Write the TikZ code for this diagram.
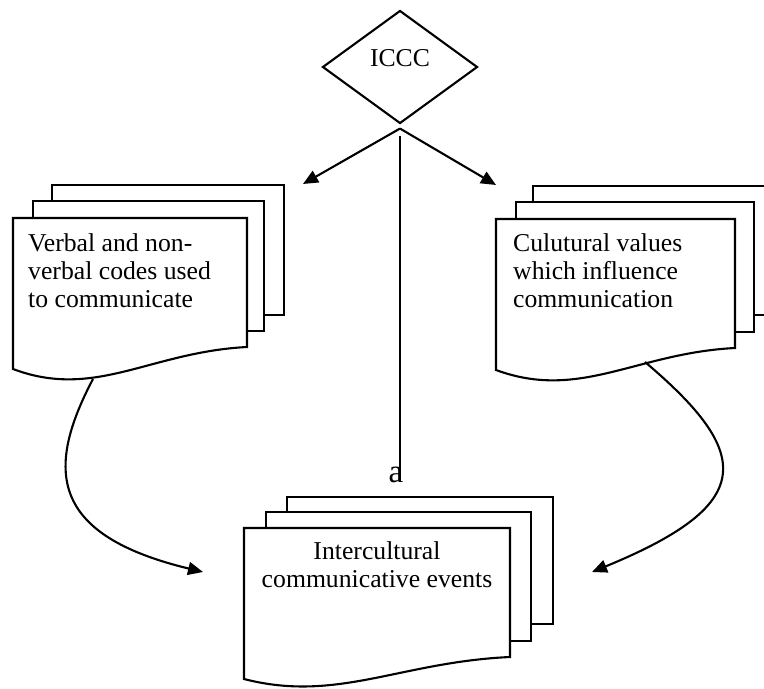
\documentclass[tikz,border=0pt]{standalone}
\usepackage{fontspec}
\setmainfont{Liberation Serif}
\usetikzlibrary{arrows.meta,shapes.geometric}
\tikzset{
  sheet/.style={draw, fill=white, line width=2.1bp, line join=miter},
  conn/.style={line width=2.1bp},
  arr/.style={line width=2.1bp, -{Triangle[length=15bp,width=13bp]}},
  lbl/.style={inner sep=0pt, font=\fontsize{25.7bp}{28bp}\selectfont},
}
\begin{document}
\begin{tikzpicture}[x=1bp,y=-1bp]
\useasboundingbox (0,0) rectangle (764,689);
\fill[white] (0,0) rectangle (764,689);
\clip (0,0) rectangle (764,689);

% diamond
\node[diamond, draw, line width=2.1bp, minimum width=155bp, minimum height=113bp, inner sep=0pt] (iccc) at (400,67) {};
\node[lbl, anchor=base] (iccctext) at (400,67) {ICCC};

% left stack
\draw[sheet] (52,185) rectangle (284,315);
\draw[sheet] (33,201) rectangle (264,331);
\draw[sheet] (13,369) -- (13,218) -- (247,218) -- (247,347) .. controls (150,352) and (95,400) .. (13,369) -- cycle;
\node[lbl, anchor=north west, align=left] (verbal) at (28,233.5) {Verbal and non-\\verbal codes used\\to communicate};

% right stack
\draw[sheet] (533,186) rectangle (800,315);
\draw[sheet] (516,202) rectangle (754,332);
\draw[sheet] (496,370) -- (496,219) -- (735,219) -- (735,348) .. controls (636,353) and (580,401) .. (496,370) -- cycle;
\node[lbl, anchor=north west, align=left] (values) at (513,233.5) {Culutural values\\which influence\\communication};

% bottom stack
\draw[sheet] (287,497) rectangle (553,624);
\draw[sheet] (266,512) rectangle (531,641);
\draw[sheet] (244,679) -- (244,528) -- (510,528) -- (510,657) .. controls (400,662) and (337,703) .. (244,679) -- cycle;
\node[lbl, anchor=north, align=center] (events) at (377,541) {Intercultural\\communicative events};

% connectors
\coordinate (fork) at ([yshift=-4bp]iccc.south);
\coordinate (vtop) at ([yshift=-11bp]iccc.south);
\coordinate (ltip) at (303,184);
\coordinate (rtip) at (496,185);
\coordinate (vend) at (400,482);
\coordinate (lfoot) at (93,379);
\coordinate (rfoot) at (645,362);
\coordinate (lend) at (203,572);
\coordinate (rend) at (592,572);

\draw[arr] (fork) -- (ltip);
\draw[arr] (fork) -- (rtip);
\draw[conn] (vtop) -- (vend);
\node[inner sep=0pt, font=\fontsize{33bp}{36bp}\selectfont, anchor=base] (amark) at (396,482) {a};

\draw[arr] (lfoot) .. controls (45,470) and (50,535) .. (lend);
\draw[arr] (rfoot) .. controls (755,455) and (755,505) .. (rend);
\end{tikzpicture}
\end{document}
